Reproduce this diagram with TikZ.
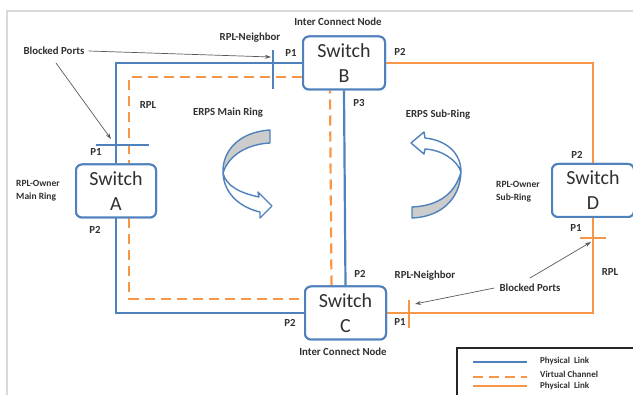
\documentclass[tikz,border=0pt]{standalone}
\usepackage{fontspec}
\setmainfont{Carlito}
\usetikzlibrary{arrows.meta}
\definecolor{lblue}{HTML}{4F81BD}
\definecolor{lorange}{HTML}{F79646}
\definecolor{txt}{HTML}{303030}
\begin{document}
\begin{tikzpicture}[x=1pt,y=-1pt,
  sw/.style={draw=lblue,line width=2pt,rounded corners=6pt,fill=white,
    minimum width=#1,minimum height=53pt,inner sep=0pt,align=center,
    font=\fontsize{20}{25}\selectfont,text=txt},
  sw/.default=81pt,
  lbl/.style={font=\fontsize{10.8}{13}\selectfont\bfseries,text=txt,inner sep=0pt},
  slbl/.style={font=\fontsize{9.5}{13}\selectfont\bfseries,text=txt,inner sep=0pt},
  leg/.style={font=\fontsize{9}{10}\selectfont\bfseries,text=txt,inner sep=0pt,anchor=west},
  phys/.style={draw=lblue,line width=2.2pt},
  subl/.style={draw=lorange,line width=2.2pt},
  virt/.style={draw=lorange,line width=2.2pt,dash pattern=on 10pt off 6pt},
  tickb/.style={draw=lblue,line width=1.6pt},
  ticko/.style={draw=lorange,line width=1.6pt},
  ptr/.style={draw=black!65,line width=0.7pt,-{Stealth[length=6pt,width=4pt]}},
  carrow/.style={draw=lblue,line width=1.4pt,line join=round}
]
\useasboundingbox (0,0) rectangle (633,395);
% frame
\draw[black!15,line width=1.5pt] (7,395) -- (7,11) -- (633,11);

% switches
\node[sw=82pt] (B) at (344,63) {Switch\\B};
\node[sw=80pt] (A) at (116,191) {Switch\\A};
\node[sw=81pt] (C) at (345.5,313) {Switch\\C};
\node[sw=82pt] (D) at (593,190.5) {Switch\\D};

% links
\draw[phys] (B.west) -| (A.north);
\draw[phys] (A.south) |- (C.west);
\draw[phys] (B.south) -- (C.north);
\draw[subl] (B.east) -| (D.north);
\draw[subl] (D.south) |- (C.east);
\draw[virt] ([yshift=-14pt]B.west) -| ([xshift=13pt]A.north);
\draw[virt] ([xshift=13pt]A.south) |- ([yshift=14pt]C.west);
\draw[virt] ([xshift=-14pt]C.north) -- ([xshift=-14pt]B.south);

% redraw switch boxes on top
\node[sw=82pt] at (B) {Switch\\B};
\node[sw=80pt] at (A) {Switch\\A};
\node[sw=81pt] at (C) {Switch\\C};
\node[sw=82pt] at (D) {Switch\\D};

% blocked port ticks
\coordinate (t1a) at (273,50); \coordinate (t1b) at (273,89);
\coordinate (t2a) at (96,145); \coordinate (t2b) at (149,145);
\coordinate (t3a) at (580,238); \coordinate (t3b) at (606,238);
\coordinate (t4a) at (409,300); \coordinate (t4b) at (409,328);
\draw[tickb] (t1a) -- (t1b);
\draw[tickb] (t2a) -- (t2b);
\draw[ticko] (t3a) -- (t3b);
\draw[ticko] (t4a) -- (t4b);

% labels
\node[lbl] at (338,22) {Inter Connect Node};
\node[lbl] at (250,38) {RPL-Neighbor};
\node[lbl] at (291,53) {P1};
\node[lbl] at (400,52) {P2};
\node[lbl] (bp1) at (54,51) {Blocked Ports};
\node[lbl] at (148,105) {RPL};
\node[lbl] at (228,113) {ERPS Main Ring};
\node[lbl] at (96,152) {P1};
\node[slbl,anchor=west,align=left] at (16,191) {RPL-Owner\\Main Ring};
\node[lbl] at (95,230) {P2};
\node[lbl] at (359,103) {P3};
\node[lbl] at (438,115) {ERPS Sub-Ring};
\node[lbl] at (577,155) {P2};
\node[slbl,anchor=west,align=left] at (496,192) {RPL-Owner\\Sub-Ring};
\node[lbl] at (576,228) {P1};
\node[lbl] at (610,272) {RPL};
\node[lbl] at (360,274) {P2};
\node[lbl] at (425,276) {RPL-Neighbor};
\node[lbl] (bp2) at (530,288) {Blocked Ports};
\node[lbl] at (290,323) {P2};
\node[lbl] at (400,322) {P1};
\node[lbl] at (343,352) {Inter Connect Node};

% pointer arrows
\coordinate (e1) at (271,57);
\coordinate (e2) at (111,139);
\coordinate (s2) at (56,63);
\coordinate (e3) at (415,304);
\coordinate (s4) at (530,278);
\coordinate (e4) at (591,242);
\draw[ptr] (bp1.east) ++(4pt,0) -- (e1);
\draw[ptr] (s2) -- (e2);
\draw[ptr] (bp2.west) ++(-5pt,0) -- (e3);
\draw[ptr] (s4) -- (e4);

% main ring curved arrow
\draw[carrow,fill=black!20] (270,130) .. controls (238,132) and (222,152) .. (223,173)
   .. controls (229,154) and (249,144) .. (270,143) -- cycle;
\draw[carrow,fill=white] (223,173) .. controls (224,195) and (242,208) .. (260,212)
   -- (260,218) -- (272,206) -- (258,192) -- (259,197)
   .. controls (240,193) and (226,186) .. (223,173);

% sub ring curved arrow
\draw[carrow,fill=black!20] (412,218) .. controls (440,217) and (460,200) .. (461,172)
   .. controls (455,194) and (438,206) .. (412,207) -- cycle;
\draw[carrow,fill=white] (461,172) .. controls (461,152) and (445,140) .. (425,138)
   -- (424,132) -- (411,143) -- (424,154) -- (425,149)
   .. controls (442,150) and (457,160) .. (461,172);

% legend
\draw[black!85,line width=2pt] (457,348) rectangle (640,400);
\coordinate (l1a) at (473,362); \coordinate (l1b) at (527,362);
\coordinate (l2a) at (473,377); \coordinate (l2b) at (527,377);
\coordinate (l3a) at (473,386); \coordinate (l3b) at (527,386);
\draw[phys] (l1a) -- (l1b);
\draw[virt] (l2a) -- (l2b);
\draw[subl] (l3a) -- (l3b);
\node[leg] at (540,361) {Physical\ \ Link};
\node[leg] at (540,374) {Virtual Channel};
\node[leg] at (540,386) {Physical\ \ Link};
\end{tikzpicture}
\end{document}
